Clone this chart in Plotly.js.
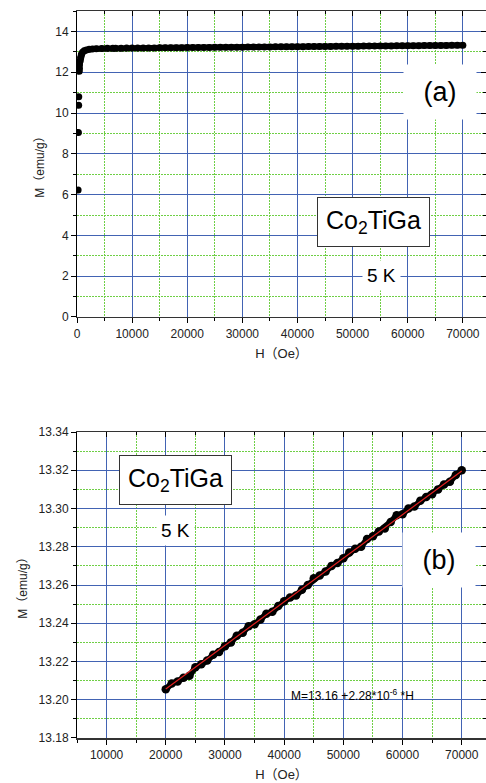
<!DOCTYPE html>
<html>
<head>
<meta charset="utf-8">
<script src="https://cdn.plot.ly/plotly-3.0.1.min.js"></script>
<style>html,body{margin:0;padding:0;background:#fff;}#chart{width:486px;height:783px;}</style>
</head>
<body>
<div id="chart"></div>
<script>
// Panel (a): isolated low-field points
const hA0 = [200, 250, 300, 320, 400, 450];
const mA0 = [6.22, 9.05, 10.38, 10.8, 12.05, 12.18];
// Panel (a): continuous magnetisation curve at 5 K
const hA = [450, 550, 650, 800, 1000, 1300, 1700, 2200, 2800, 3500, 4500, 5500, 6500,
  7000, 8000, 9000, 10000, 11000, 12000, 13000, 14000, 15000, 16000, 17000, 18000, 19000, 20000,
  21000, 22000, 23000, 24000, 25000, 26000, 27000, 28000, 29000, 30000, 31000, 32000, 33000, 34000,
  35000, 36000, 37000, 38000, 39000, 40000, 41000, 42000, 43000, 44000, 45000, 46000, 47000, 48000,
  49000, 50000, 51000, 52000, 53000, 54000, 55000, 56000, 57000, 58000, 59000, 60000, 61000, 62000,
  63000, 64000, 65000, 66000, 67000, 68000, 69000, 70000];
const mA = [12.35, 12.55, 12.72, 12.88, 12.98, 13.05, 13.09, 13.12, 13.14, 13.155, 13.165, 13.172, 13.177,
  13.176, 13.178, 13.181, 13.183, 13.185, 13.187, 13.190, 13.192, 13.194, 13.196, 13.199, 13.201, 13.203, 13.206,
  13.208, 13.210, 13.212, 13.215, 13.217, 13.219, 13.222, 13.224, 13.226, 13.228, 13.231, 13.233, 13.235, 13.238,
  13.240, 13.242, 13.244, 13.247, 13.249, 13.251, 13.253, 13.256, 13.258, 13.260, 13.263, 13.265, 13.267, 13.269,
  13.272, 13.274, 13.276, 13.279, 13.281, 13.283, 13.285, 13.288, 13.290, 13.292, 13.295, 13.297, 13.299, 13.301,
  13.304, 13.306, 13.308, 13.310, 13.313, 13.315, 13.317, 13.320];

// Panel (b): high-field part with linear fit
const hB = [20000, 21000, 22000, 23000, 24000, 25000, 26000, 27000, 28000, 29000, 30000, 31000, 32000, 33000,
  34000, 35000, 36000, 37000, 38000, 39000, 40000, 41000, 42000, 43000, 44000, 45000, 46000, 47000, 48000,
  49000, 50000, 51000, 52000, 53000, 54000, 55000, 56000, 57000, 58000, 59000, 60000, 61000, 62000, 63000,
  64000, 65000, 66000, 67000, 68000, 69000, 70000];
const mB = [13.2055, 13.2085, 13.2095, 13.2115, 13.2125, 13.2170, 13.2185, 13.2205, 13.2235, 13.2250, 13.2280,
  13.2300, 13.2335, 13.2350, 13.2385, 13.2395, 13.2420, 13.2450, 13.2460, 13.2490, 13.2515, 13.2535, 13.2545,
  13.2575, 13.2600, 13.2635, 13.2650, 13.2670, 13.2700, 13.2715, 13.2740, 13.2770, 13.2790, 13.2800, 13.2840,
  13.2855, 13.2880, 13.2895, 13.2930, 13.2965, 13.2970, 13.3000, 13.3010, 13.3040, 13.3060, 13.3075, 13.3100,
  13.3125, 13.3140, 13.3175, 13.3200];
const fitH = [20000, 70000];
const fitM = [13.2056, 13.3196];

const xTicksA = [0, 10000, 20000, 30000, 40000, 50000, 60000, 70000];
const xTicksB = [10000, 20000, 30000, 40000, 50000, 60000, 70000];
const yTicksA = [0, 2, 4, 6, 8, 10, 12, 14];
const yTicksB = [13.18, 13.20, 13.22, 13.24, 13.26, 13.28, 13.30, 13.32, 13.34];

const FONT = 'Liberation Sans, Arial, Noto Sans CJK JP, sans-serif';
const MAJ = '#4263b3';
const MIN = '#6fcf45';
const DASH = '2px,1px';
const RANGE_XA = [0, 74200], RANGE_XB = [5000, 74100];
const RANGE_YA = [0, 15], RANGE_YB = [13.18, 13.34];

function xax(range, ticks, domainAnchor) {
  return {
    range: range, tickmode: 'array', tickvals: ticks, ticktext: ticks.map(String),
    anchor: domainAnchor, showgrid: true, gridcolor: MAJ, gridwidth: 1, zeroline: false,
    ticks: 'outside', ticklen: 5, tickcolor: '#000', tickwidth: 1,
    showline: true, linecolor: '#333', linewidth: 1.5, mirror: true,
    minor: {dtick: 5000, tick0: 0, showgrid: true, gridcolor: MIN, griddash: DASH, gridwidth: 1,
            ticks: 'outside', ticklen: 3, tickcolor: '#000'},
    tickfont: {family: FONT, size: 12, color: '#222'},
    title: {text: 'H（Oe）', font: {family: FONT, size: 13, color: '#222'}, standoff: 9},
    automargin: false
  };
}
function yax(range, ticks, fmt, minorD, domain, anchor) {
  return {
    range: range, tickmode: 'array', tickvals: ticks, ticktext: ticks.map(v => fmt(v)),
    domain: domain, anchor: anchor, showgrid: true, gridcolor: MAJ, gridwidth: 1, zeroline: false,
    ticks: 'outside', ticklen: 5, tickcolor: '#000', tickwidth: 1,
    showline: true, linecolor: '#000', linewidth: 1, mirror: true,
    minor: {dtick: minorD, tick0: 0, showgrid: true, gridcolor: MIN, griddash: DASH, gridwidth: 1,
            ticks: 'outside', ticklen: 3, tickcolor: '#000'},
    tickfont: {family: FONT, size: 12, color: '#222'},
    title: {text: 'M（emu/g）', font: {family: FONT, size: 12, color: '#222'}, standoff: 8},
    automargin: false
  };
}
// inside-pointing mirrored ticks (top / right)
function mirrorAx(range, overlay, anchor, side, dtick, minorD) {
  return {
    range: range, overlaying: overlay, anchor: anchor, side: side,
    tickmode: 'linear', tick0: 0, dtick: dtick, ticks: 'inside', ticklen: 5, tickcolor: '#000',
    minor: {dtick: minorD, tick0: 0, ticks: 'inside', ticklen: 3, tickcolor: '#000', showgrid: false},
    showticklabels: false, showgrid: false, zeroline: false, showline: false
  };
}

const traces = [
  {x: hA0, y: mA0, xaxis: 'x', yaxis: 'y', type: 'scatter', mode: 'markers',
   marker: {color: '#000', size: 7}, hoverinfo: 'skip'},
  {x: hA, y: mA, xaxis: 'x', yaxis: 'y', type: 'scatter', mode: 'lines+markers',
   line: {color: '#000', width: 6}, marker: {color: '#000', size: 7}, hoverinfo: 'skip'},
  {x: hB, y: mB, xaxis: 'x2', yaxis: 'y2', type: 'scatter', mode: 'lines+markers',
   line: {color: '#000', width: 6}, marker: {color: '#000', size: 8.5}, hoverinfo: 'skip'},
  {x: fitH, y: fitM, xaxis: 'x2', yaxis: 'y2', type: 'scatter', mode: 'lines',
   line: {color: '#e02020', width: 1.2}, hoverinfo: 'skip'},
  {x: [], y: [], xaxis: 'x3', yaxis: 'y3', type: 'scatter', mode: 'markers', hoverinfo: 'skip'},
  {x: [], y: [], xaxis: 'x4', yaxis: 'y4', type: 'scatter', mode: 'markers', hoverinfo: 'skip'}
];

const C = {xref: 'paper', yref: 'paper', showarrow: false, xanchor: 'center', yanchor: 'middle'};
const boxA = Object.assign({font: {family: FONT, size: 25, color: '#000'},
  bgcolor: '#fff', bordercolor: '#333', borderwidth: 1, borderpad: 8}, C);

const layout = {
  width: 486, height: 783,
  margin: {l: 77, r: 0, t: 11, b: 45},
  paper_bgcolor: '#fff', plot_bgcolor: '#fff',
  showlegend: false,
  xaxis: xax(RANGE_XA, xTicksA, 'y'),
  yaxis: yax(RANGE_YA, yTicksA, v => String(v), 1, [0.5791, 1], 'x'),
  xaxis2: xax(RANGE_XB, xTicksB, 'y2'),
  yaxis2: yax(RANGE_YB, yTicksB, v => v.toFixed(2), 0.01, [0, 0.4209], 'x2'),
  xaxis3: mirrorAx(RANGE_XA, 'x', 'y', 'top', 10000, 5000),
  yaxis3: mirrorAx(RANGE_YA, 'y', 'x', 'right', 2, 1),
  xaxis4: mirrorAx(RANGE_XB, 'x2', 'y2', 'top', 10000, 5000),
  yaxis4: mirrorAx(RANGE_YB, 'y2', 'x2', 'right', 0.02, 0.01),
  annotations: [
    Object.assign({text: '(a)', x: 0.8875, y: 0.8886,
     font: {family: FONT, size: 27, color: '#000'}, bgcolor: '#fff', width: 58, height: 40, borderpad: 7}, C),
    Object.assign({text: 'Co<sub>2</sub>TiGa', x: 0.725, y: 0.7098}, boxA),
    Object.assign({text: '5 K', x: 0.7457, y: 0.6355,
     font: {family: FONT, size: 19, color: '#000'}, bgcolor: '#fff', borderpad: 4}, C),
    Object.assign({text: 'Co<sub>2</sub>TiGa', x: 0.242, y: 0.3549}, boxA),
    Object.assign({text: '5 K', x: 0.242, y: 0.2861,
     font: {family: FONT, size: 19, color: '#000'}, bgcolor: '#fff', borderpad: 4}, C),
    Object.assign({text: '(b)', x: 0.885, y: 0.2448,
     font: {family: FONT, size: 27, color: '#000'}, bgcolor: '#fff', width: 58, height: 40, borderpad: 7}, C),
    Object.assign({text: 'M=13.16 +2.28*10<sup>-6</sup> *H', x: 0.6748, y: 0.0591,
     font: {family: FONT, size: 12, color: '#000'}}, C)
  ]
};

Plotly.newPlot('chart', traces, layout, {staticPlot: true, displayModeBar: false});
</script>
</body>
</html>
